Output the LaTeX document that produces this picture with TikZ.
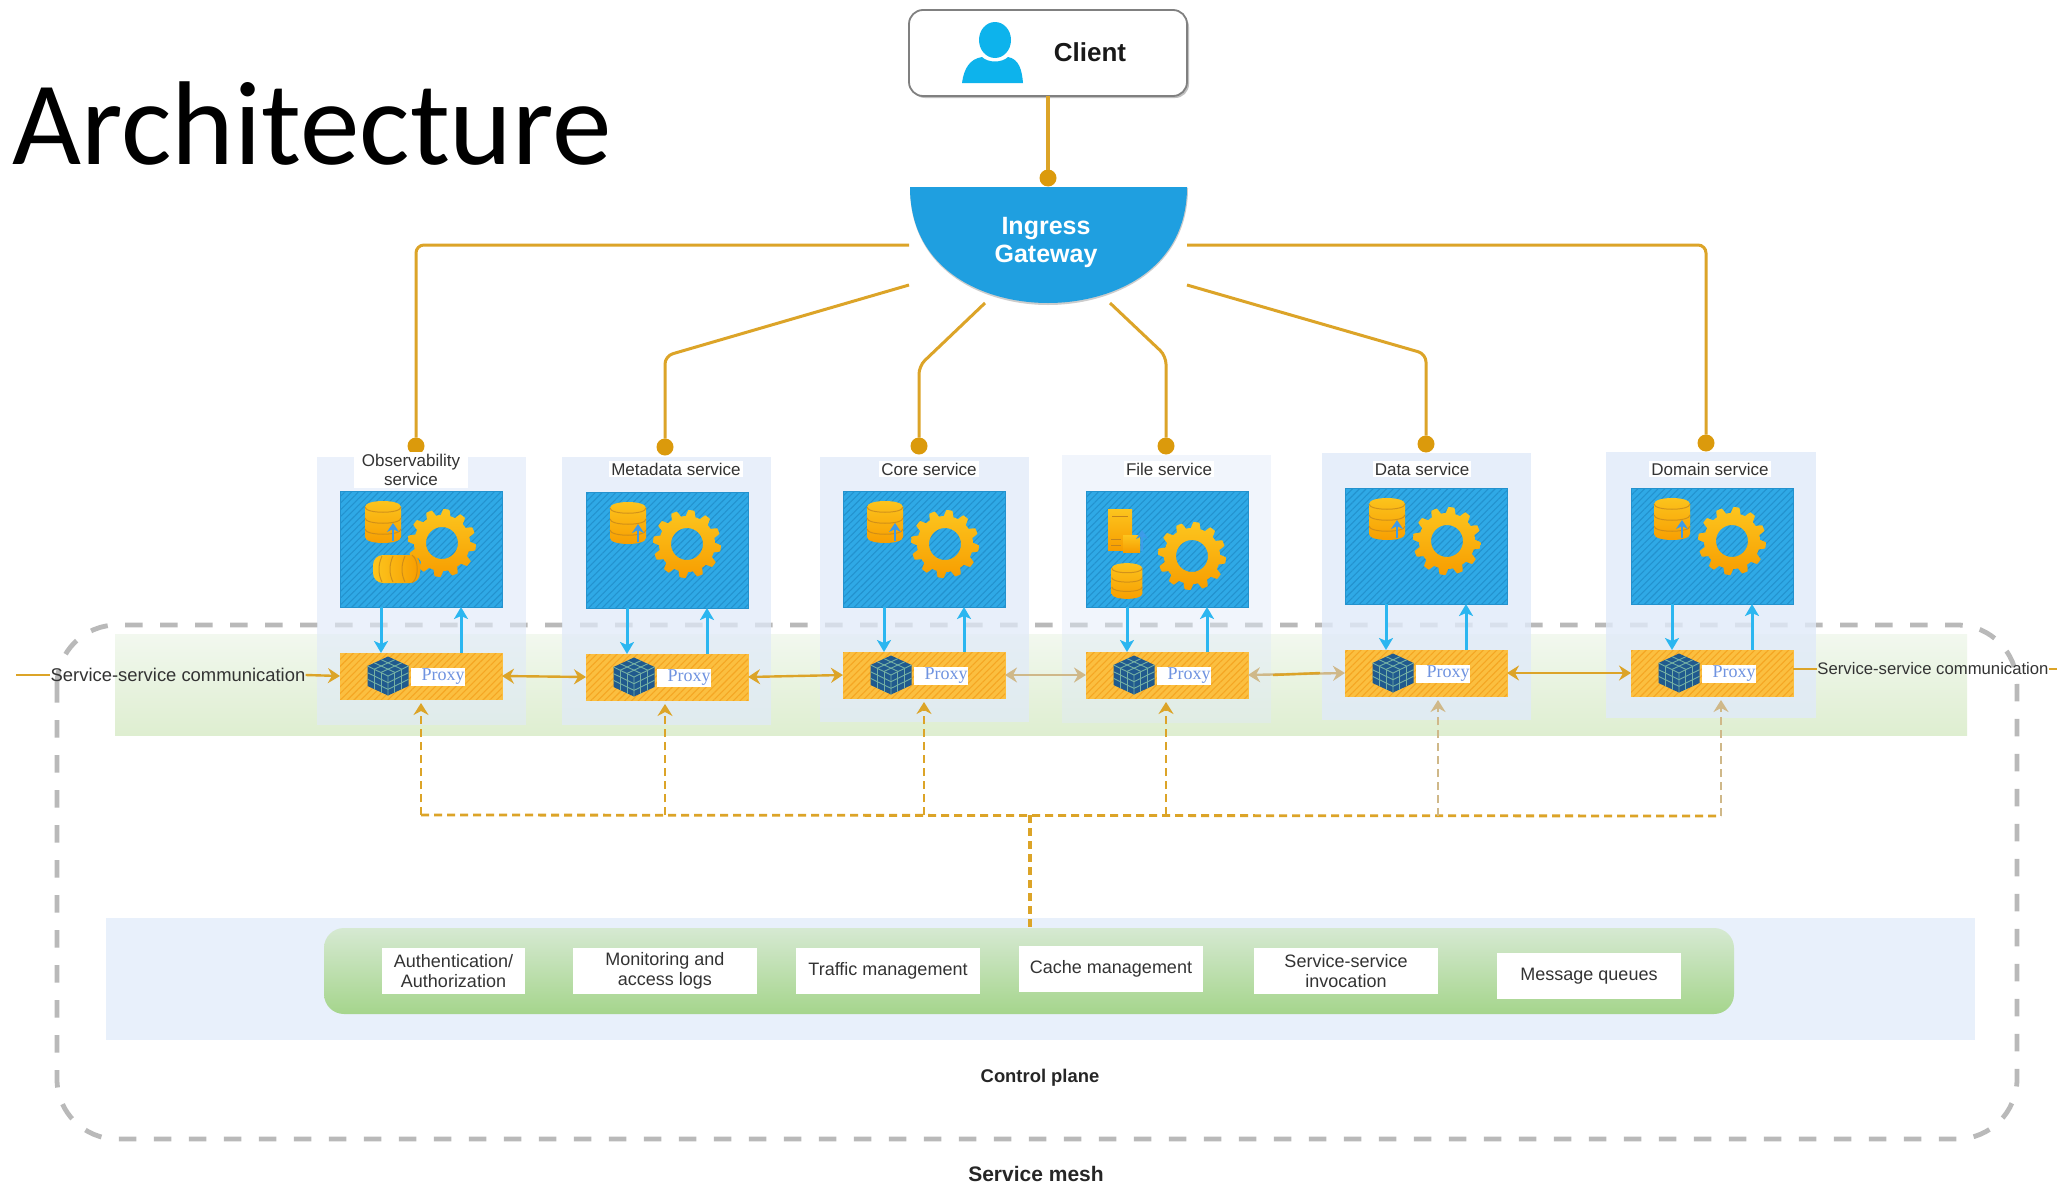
\documentclass[tikz,border=0pt]{standalone}
\usepackage{fontspec}
\setmainfont{Liberation Sans}
\newfontfamily\carlitofont{Carlito}
\newfontfamily\proxyfont{Liberation Serif}
\usetikzlibrary{arrows.meta,calc,patterns.meta}
\definecolor{conn}{HTML}{DCA428}
\definecolor{connlight}{HTML}{CFB889}
\definecolor{dotc}{HTML}{DB9A0C}
\definecolor{meshgray}{HTML}{B9B9B9}
\definecolor{panelc}{HTML}{E0EAF9}
\definecolor{cpblue}{HTML}{E8F0FB}
\definecolor{gwblue}{HTML}{1F9FE0}
\definecolor{hatchblue}{HTML}{2FA9E6}
\definecolor{hatchdark}{HTML}{2392CE}
\definecolor{arrowblue}{HTML}{2BB6F0}
\definecolor{smallblue}{HTML}{3D9BE9}
\definecolor{orangea}{HTML}{FBBF40}
\definecolor{orangeb}{HTML}{F5A623}
\definecolor{gearhi}{HTML}{FCC51E}
\definecolor{gearlo}{HTML}{F79D00}
\definecolor{cubeblue}{HTML}{205A8E}
\definecolor{cubegrid}{HTML}{74B0A4}
\definecolor{personblue}{HTML}{0DB3EC}
\definecolor{txt}{HTML}{333333}
\definecolor{proxytext}{HTML}{6F93E0}
\definecolor{cptop}{HTML}{D6E9D2}
\definecolor{cpbot}{HTML}{A5D58C}
\definecolor{bandtop}{HTML}{F2F8EF}
\definecolor{bandbot}{HTML}{DEEED0}
\tikzset{
  x=0.5pt,y=-0.5pt,
  connline/.style={draw=conn,line width=1.5pt,rounded corners=4pt},
  dotnode/.style={circle,fill=dotc,minimum size=8.5pt,inner sep=0pt,outer sep=0pt},
  bluebox/.style={rectangle,anchor=north west,minimum width=81pt,minimum height=58pt,inner sep=0pt,outer sep=0pt,
    fill=hatchblue,draw=hatchdark,line width=.3pt,postaction={pattern={Lines[angle=45,distance=2.4pt,line width=.55pt]},pattern color=hatchdark}},
  proxybox/.style={rectangle,anchor=north west,minimum width=81pt,minimum height=23pt,inner sep=0pt,outer sep=0pt,
    fill=orangea,draw=orangea,line width=.3pt,postaction={pattern={Lines[angle=45,distance=2.4pt,line width=.55pt]},pattern color=orangeb}},
  proxylabel/.style={rectangle,fill=white,text=proxytext,minimum width=27pt,minimum height=9pt,inner sep=0pt,font=\proxyfont\fontsize{9}{9}\selectfont},
  blueline/.style={draw=arrowblue,line width=1.5pt,-{Stealth[length=6pt,width=7pt,inset=1.5pt]}},
  duplex/.style={draw=conn,line width=1.2pt,{Stealth[length=6pt,width=7.5pt,inset=2pt]}-{Stealth[length=6pt,width=7.5pt,inset=2pt]}},
  duplexlight/.style={draw=connlight,line width=1.2pt,{Stealth[length=6pt,width=7.5pt,inset=2pt]}-{Stealth[length=6pt,width=7.5pt,inset=2pt]}},
  oneway/.style={draw=conn,line width=1.2pt,-{Stealth[length=6pt,width=7.5pt,inset=2pt]}},
  plainline/.style={draw=conn,line width=1.2pt},
  busline/.style={draw=conn,line width=1.4pt,dash pattern=on 4pt off 2.5pt},
  busarrow/.style={draw=conn,line width=1.4pt,dash pattern=on 4pt off 2.5pt,-{Stealth[length=6pt,width=7.5pt,inset=2pt]},shorten >=2pt},
  svclabel/.style={rectangle,fill=white,text=txt,inner sep=1pt,align=center,font=\fontsize{8.5}{9.5}\selectfont},
  cpbox/.style={rectangle,fill=white,text=txt,anchor=north west,inner sep=0pt,outer sep=0pt,minimum height=23pt,align=center,font=\fontsize{9}{9.75}\selectfont},
  boldlabel/.style={text=black!85,inner sep=0pt,font=\bfseries\fontsize{9.2}{11}\selectfont},
  cube/.pic={
    \fill[cubeblue] (0,-19.5)--(20.5,-10)--(20.5,10)--(0,19.5)--(-20.5,10)--(-20.5,-10)--cycle;
    \begin{scope}[draw=cubegrid,line width=.45pt]
      \draw (-20.5,-10)--(0,0)--(20.5,-10) (0,0)--(0,19.5);
      \foreach \i in {1,2}{
        \draw ({\i*6.83},{-19.5+\i*3.17})--({\i*6.83-20.5},{-10+\i*3.17});
        \draw ({-\i*6.83},{-19.5+\i*3.17})--({20.5-\i*6.83},{-10+\i*3.17});
        \draw ({-20.5+\i*6.83},{-10+\i*3.33})--++(0,20);
        \draw (-20.5,{-10+\i*6.67})--++(20.5,10);
        \draw ({\i*6.83},{-\i*3.33})--++(0,20);
        \draw (0,{\i*6.67})--++(20.5,-10);
      }
    \end{scope}
  },
  gear/.pic={
    \path[top color=gearhi,bottom color=gearlo,even odd rule]
      plot[samples=289,domain=0:360,variable=\t]
        ({(31+3*min(1,max(-1,2*sin(12*\t))))*cos(\t)},{(31+3*min(1,max(-1,2*sin(12*\t))))*sin(\t)})
      -- cycle (0,0) circle[radius=8pt];
  },
  dbicon/.pic={
    \path[top color=gearhi,bottom color=gearlo]
      (-18,-15)--(-18,15) .. controls (-18,23) and (18,23) .. (18,15)--(18,-15) .. controls (18,-23) and (-18,-23) .. cycle;
    \draw[orangeb!80!black,line width=.5pt,opacity=.75]
      (-18,-15) .. controls (-18,-8) and (18,-8) .. (18,-15)
      (-18,-4) .. controls (-18,3) and (18,3) .. (18,-4)
      (-18,7) .. controls (-18,14) and (18,14) .. (18,7);
  },
  uparrow/.pic={
    \draw[smallblue,line width=1.2pt,-{Stealth[length=4.5pt,width=6pt]}] (0,18)--(0,0);
  },
}
\begin{document}
\begin{tikzpicture}
\useasboundingbox (0,0) rectangle (2057,1183);
\fill[white] (0,0) rectangle (2057,1183);

% title
\node[anchor=base west,inner sep=0pt,font=\carlitofont\fontsize{59.6}{60}\selectfont] (title) at (12,164) {Architecture};

% service mesh outline and bands
\draw[meshgray,line width=2.4pt,rounded corners=30pt,dash pattern=on 8.75pt off 8.75pt] (57,625) rectangle (2017,1139);
\shade[top color=bandtop,bottom color=bandbot] (115,634) rectangle (1967,735);
\fill[cpblue] (106,918) rectangle (1975,1040);

% service panels
\foreach \xa/\xb/\ya/\yb/\op in {317/526/457/725/.62,562/771/457/725/.72,820/1029/457/722/.72,1062/1271/455/723/.45,1322/1531/453/720/.8,1606/1816/452/718/.8}{
  \fill[panelc,fill opacity=\op] (\xa,\ya) rectangle (\xb,\yb);
}

% client and gateway
\path[fill=black!25,rounded corners=7pt] (911,13) rectangle (1189,98);
\node[rectangle,rounded corners=7pt,draw=black!50,line width=.9pt,fill=white,minimum width=139pt,minimum height=43pt,inner sep=0pt,outer sep=0pt] (client) at (1048,53) {};
\fill[personblue] (995,40) ellipse[x radius=8pt,y radius=9pt];
\fill[personblue] (962,83) .. controls (964,68) and (970,59) .. (982,57) .. controls (988,63) and (1002,63) .. (1008,57) .. controls (1019,59) and (1022,70) .. (1023,83) -- cycle;
\node[inner sep=0pt,text=black!90,font=\bfseries\fontsize{13}{14}\selectfont] (clientlabel) at (1090,52) {Client};
\path[fill=black!20] (910,188) .. controls (910,272) and (985,305) .. (1048,305) .. controls (1111,305) and (1188,272) .. (1188,188) -- cycle;
\fill[gwblue] (910,187) .. controls (910,271) and (985,303) .. (1048,303) .. controls (1111,303) and (1187,271) .. (1187,187) -- cycle;
\node[inner sep=0pt,align=center,text=white,font=\bfseries\fontsize{12.5}{14}\selectfont] (gw) at (1046,242) {Ingress\\Gateway};
\node[dotnode] (gwdot) at (1048,178) {};
\draw[connline,line width=1.6pt] (client.south -| gwdot) -- (gwdot);

% gateway ports
\coordinate (g1) at (909,245);
\coordinate (g2) at (909,285);
\coordinate (g3) at (985,303);
\coordinate (g4) at (1110,303);
\coordinate (g5) at (1187,285);
\coordinate (g6) at (1187,245);
\node[dotnode] (d1) at (416,446) {};
\node[dotnode] (d2) at (665,447) {};
\node[dotnode] (d3) at (919,446) {};
\node[dotnode] (d4) at (1166,446) {};
\node[dotnode] (d5) at (1426,444) {};
\node[dotnode] (d6) at (1706,443) {};
\draw[connline] (g1) -- (416,245) -- (d1);
\draw[connline] (g2) -- (665,356) -- (d2);
\draw[connline] (g3) -- (919,366) -- (d3);
\draw[connline] (g4) -- (1166,356) -- (d4);
\draw[connline] (g5) -- (1426,354) -- (d5);
\draw[connline] (g6) -- (1706,245) -- (d6);

% service and proxy boxes
\foreach \n/\bx/\by/\py in {1/340/491/653,2/586/492/654,3/843/491/652,4/1086/491/652,5/1345/488/650,6/1631/488/650}{
  \node[bluebox] (b\n) at (\bx,\by) {};
  \node[proxybox] (p\n) at (\bx,\py) {};
  \draw[blueline] ($(b\n.south west)+(41,0)$) -- ($(p\n.north west)+(41,0)$);
  \draw[blueline] ($(p\n.north west)+(121,0)$) -- ($(b\n.south west)+(121,0)$);
  \pic at ($(p\n.west)+(48,0)$) {cube};
  \node[proxylabel] (pl\n) at ($(p\n.west)+(98,1)$) {\hspace*{5pt}Proxy};
}

% gears
\pic at (442,543) {gear};
\pic at (687,544) {gear};
\pic at (945,544) {gear};
\pic at (1192,556) {gear};
\pic at (1447,541) {gear};
\pic at (1732,541) {gear};

% databases
\pic at (383,522) {dbicon};
\pic at (393,523) {uparrow};
\pic at (628,523) {dbicon};
\pic at (638,524) {uparrow};
\pic at (885,522) {dbicon};
\pic at (895,523) {uparrow};
\pic at (1387,519) {dbicon};
\pic at (1397,520) {uparrow};
\pic at (1672,519) {dbicon};
\pic at (1682,520) {uparrow};
% extra icons
\path[left color=gearhi,right color=gearlo,rounded corners=5pt] (373,555) rectangle (420,583);
\draw[orangeb!80!black,line width=.5pt,opacity=.75] (382,556) .. controls (378,565) and (378,574) .. (382,582) (393,556) .. controls (389,565) and (389,574) .. (393,582) (405,556) .. controls (401,565) and (401,574) .. (405,582);
\draw[orangeb!80!black,line width=.5pt,opacity=.75] (412,555) .. controls (419,560) and (419,578) .. (412,583);
\pic[scale=.85] at (1127,581) {dbicon};
\path[top color=gearhi,bottom color=gearlo] (1108,509) rectangle (1132,550);
\draw[orangeb!80!black,line width=.5pt] (1112,516) -- (1128,516) (1111,539) -- (1121,539) (1111,545) -- (1121,545);
\path[top color=gearhi,bottom color=gearlo] (1123,535) rectangle (1140,552);
\draw[smallblue,line width=1.2pt,-{Stealth[length=4.5pt,width=6pt]}] (1142,551) -- (1142,530);

% service labels
\node[svclabel,minimum width=57pt,minimum height=16.5pt] (s1) at (411,470) {Observability\\service};
\node[svclabel] (s2) at (676,469) {Metadata service};
\node[svclabel] (s3) at (929,469) {Core service};
\node[svclabel] (s4) at (1169,469) {File service};
\node[svclabel] (s5) at (1422,469) {Data service};
\node[svclabel] (s6) at (1710,469) {Domain service};

% proxy to proxy
\coordinate (lend) at (16,675);
\coordinate (rend) at (2057,669);
\node[inner sep=0pt,text=txt,font=\fontsize{9.2}{10}\selectfont] (lss) at (178,675) {Service-service communication};
\node[inner sep=0pt,text=txt,font=\fontsize{8.35}{10}\selectfont] (rss) at (1933,669) {Service-service communication};
\draw[plainline] (lend) -- (lss.west);
\draw[oneway] (lss.east) -- (p1.west);
\draw[duplex] (p1.east) -- (p2.west);
\draw[duplex] (p2.east) -- (p3.west);
\draw[duplexlight] (p3.east) -- (p4.west);
\draw[duplexlight] (p4.east) -- (p5.west);
\draw[plainline] ($(p4.east)+(25,0)$) -- ($(p5.west)+(-25,0)$);
\draw[duplex] (p5.east) -- (p6.west);
\draw[plainline] (rss.west -| p6.east) -- (rss.west);
\draw[plainline] (rss.east) -- (rend);

% control plane
\node[rectangle,rounded corners=10pt,top color=cptop,bottom color=cpbot,minimum width=705pt,minimum height=43pt,inner sep=0pt,outer sep=0pt] (cp) at (1029,971) {};
\node[cpbox,minimum width=71.5pt] (c1) at (382,948) {Authentication/\\Authorization};
\node[cpbox,minimum width=92pt] (c2) at (573,948) {Monitoring and\\access logs};
\node[cpbox,minimum width=92pt] (c3) at (796,948) {Traffic management};
\node[cpbox,minimum width=92pt] (c4) at (1019,946) {Cache management};
\node[cpbox,minimum width=92pt] (c5) at (1254,948) {Service-service\\invocation};
\node[cpbox,minimum width=92pt] (c6) at (1497,953) {Message queues};

% control bus
\coordinate (bus1) at (421,815);
\coordinate (bus2) at (665,815);
\coordinate (bus3) at (924,815);
\coordinate (bus4) at (1166,815);
\coordinate (busc) at (1030,815);
\coordinate (bus5) at (1438,816);
\coordinate (bus6) at (1721,816);
\draw[busline] (bus1) -- (bus6);
\draw[busarrow] (bus1) -- (p1.south -| bus1);
\draw[busarrow] (bus2) -- (p2.south -| bus2);
\draw[busarrow] (bus3) -- (p3.south -| bus3);
\draw[busarrow] (bus4) -- (p4.south -| bus4);
\draw[busarrow,draw=connlight] (bus5) -- (p5.south -| bus5);
\draw[busarrow,draw=connlight] (bus6) -- (p6.south -| bus6);
\draw[busline,line width=1.8pt] (busc) -- (cp.north -| busc);

\node[boldlabel] (cplabel) at (1040,1078) {Control plane};
\node[boldlabel,font=\bfseries\fontsize{10.5}{12}\selectfont] (smlabel) at (1036,1174) {Service mesh};
\end{tikzpicture}
\end{document}
